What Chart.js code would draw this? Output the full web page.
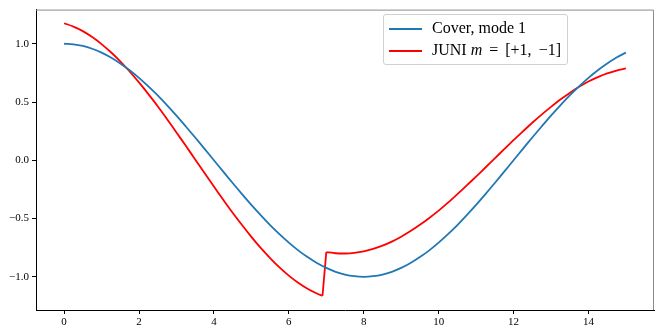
<!DOCTYPE html>
<html>
<head>
<meta charset="utf-8">
<script src="https://cdn.jsdelivr.net/npm/chart.js@4"></script>
<style>
  html, body { margin: 0; padding: 0; background: #fff; }
  #wrap { position: relative; width: 655px; height: 326px; }
  #legend {
    position: absolute; left: 383px; top: 14px; width: 183px; height: 49px;
    border: 1px solid #d0d0d0; border-radius: 3px; background: rgba(255,255,255,0.8);
    font-family: "Liberation Serif", serif; font-size: 16px; color: #000;
  }
  #legend .row { position: absolute; left: 5px; height: 20px; line-height: 20px; white-space: nowrap; }
  #legend .swatch { display: inline-block; width: 33px; height: 2px; vertical-align: middle; margin-right: 10px; }
  #legend .op { margin: 0 3px; }
</style>
</head>
<body>
<div id="wrap">
  <canvas id="chart" width="655" height="326"></canvas>
  <div id="legend">
    <div class="row" style="top:3px"><span class="swatch" style="background:#1f77b4"></span>Cover, mode 1</div>
    <div class="row" style="top:25px"><span class="swatch" style="background:#ff0000"></span>JUNI <i>m</i> <span class="op">=</span> [+1,&thinsp; −1]</div>
  </div>
</div>
<script>
// Datos (paso 0.25)
const xCover = [0, 0.25, 0.5, 0.75, 1, 1.25, 1.5, 1.75, 2, 2.25, 2.5, 2.75, 3, 3.25, 3.5, 3.75,
  4, 4.25, 4.5, 4.75, 5, 5.25, 5.5, 5.75, 6, 6.25, 6.5, 6.75, 7, 7.25, 7.5, 7.75,
  8, 8.25, 8.5, 8.75, 9, 9.25, 9.5, 9.75, 10, 10.25, 10.5, 10.75, 11, 11.25, 11.5, 11.75,
  12, 12.25, 12.5, 12.75, 13, 13.25, 13.5, 13.75, 14, 14.25, 14.5, 14.75, 15];
const yCover = [1.000, 0.995, 0.981, 0.957, 0.924, 0.882, 0.831, 0.773, 0.707, 0.634, 0.556, 0.471,
  0.383, 0.290, 0.195, 0.098, 0.000, -0.098, -0.195, -0.290, -0.383, -0.471, -0.556, -0.634,
  -0.707, -0.773, -0.831, -0.882, -0.924, -0.957, -0.981, -0.995, -1.000, -0.995, -0.981, -0.957,
  -0.924, -0.882, -0.831, -0.773, -0.707, -0.634, -0.556, -0.471, -0.383, -0.290, -0.195, -0.098,
  0.000, 0.098, 0.195, 0.290, 0.383, 0.471, 0.556, 0.634, 0.707, 0.773, 0.831, 0.882, 0.924];

// Rama izquierda (0 – 6.9) y rama derecha (7 – 15) de JUNI
const xJuniLeft = [0, 0.25, 0.5, 0.75, 1, 1.25, 1.5, 1.75, 2, 2.25, 2.5, 2.75, 3, 3.25, 3.5, 3.75,
  4, 4.25, 4.5, 4.75, 5, 5.25, 5.5, 5.75, 6, 6.25, 6.5, 6.75, 6.9];
const yJuniLeft = [1.176, 1.147, 1.108, 1.057, 0.997, 0.927, 0.849, 0.762, 0.668, 0.568, 0.464, 0.352,
  0.239, 0.124, 0.007, -0.110, -0.226, -0.339, -0.450, -0.556, -0.657, -0.752, -0.839, -0.919,
  -0.990, -1.051, -1.102, -1.143, -1.163];
const xJuniRight = [7, 7.25, 7.5, 7.75, 8, 8.25, 8.5, 8.75, 9, 9.25, 9.5, 9.75, 10, 10.25, 10.5, 10.75,
  11, 11.25, 11.5, 11.75, 12, 12.25, 12.5, 12.75, 13, 13.25, 13.5, 13.75, 14, 14.25, 14.5, 14.75, 15];
const yJuniRight = [-0.788, -0.798, -0.800, -0.794, -0.781, -0.761, -0.733, -0.698, -0.656, -0.608,
  -0.554, -0.495, -0.432, -0.364, -0.291, -0.216, -0.140, -0.062, 0.017, 0.095, 0.173, 0.248,
  0.322, 0.392, 0.458, 0.521, 0.578, 0.630, 0.676, 0.714, 0.746, 0.770, 0.788];

const xTicks = [0, 2, 4, 6, 8, 10, 12, 14];
const yTicks = [-1.0, -0.5, 0.0, 0.5, 1.0];

const colors = {
  cover: '#1f77b4',
  juni: '#ff0000',
  axis: '#000000',
  frame: '#8c8c8c'
};

const toPoints = (xs, ys) => xs.map((x, i) => ({ x: x, y: ys[i] }));
const tickFont = { family: '"Liberation Serif", serif', size: 11 };

// Salto entre las dos ramas: último punto izquierdo -> primer punto derecho
const juniJump = [
  { x: xJuniLeft[xJuniLeft.length - 1], y: yJuniLeft[yJuniLeft.length - 1] },
  { x: xJuniRight[0], y: yJuniRight[0] }
];

function lineSet(label, data, color, tension) {
  return {
    label: label,
    data: data,
    showLine: true,
    borderColor: color,
    borderWidth: 1.8,
    pointRadius: 0,
    tension: tension
  };
}

// Marco superior y derecho en gris
const framePlugin = {
  id: 'frame',
  afterDraw(chart) {
    const a = chart.chartArea;
    const ctx = chart.ctx;
    ctx.save();
    ctx.strokeStyle = colors.frame;
    ctx.lineWidth = 1;
    ctx.beginPath();
    ctx.moveTo(a.left, a.top + 0.5);
    ctx.lineTo(a.right - 0.5, a.top + 0.5);
    ctx.lineTo(a.right - 0.5, a.bottom);
    ctx.stroke();
    ctx.restore();
  }
};

new Chart(document.getElementById('chart'), {
  type: 'scatter',
  data: {
    datasets: [
      lineSet('Cover, mode 1', toPoints(xCover, yCover), colors.cover, 0.3),
      lineSet('JUNI m = [+1, −1]', toPoints(xJuniLeft, yJuniLeft), colors.juni, 0.3),
      lineSet('JUNI salto', juniJump, colors.juni, 0),
      lineSet('JUNI derecha', toPoints(xJuniRight, yJuniRight), colors.juni, 0.3)
    ]
  },
  options: {
    responsive: false,
    animation: false,
    layout: { padding: { top: 7, right: 1, left: 0, bottom: 0 } },
    plugins: {
      legend: { display: false },
      tooltip: { enabled: false }
    },
    scales: {
      x: {
        type: 'linear',
        min: -0.75,
        max: 15.75,
        afterBuildTicks: s => { s.ticks = xTicks.map(v => ({ value: v })); },
        afterFit: s => { s.height = 16; },
        grid: { drawOnChartArea: false, drawTicks: true, tickLength: 4, tickColor: colors.axis },
        border: { display: true, color: colors.axis, width: 1 },
        ticks: {
          color: '#000',
          font: tickFont,
          padding: 2,
          maxRotation: 0,
          callback: v => String(v)
        }
      },
      y: {
        type: 'linear',
        min: -1.285,
        max: 1.293,
        afterBuildTicks: s => { s.ticks = yTicks.map(v => ({ value: v })); },
        afterFit: s => { s.width = 36; },
        grid: { drawOnChartArea: false, drawTicks: true, tickLength: 4, tickColor: colors.axis },
        border: { display: true, color: colors.axis, width: 1 },
        ticks: {
          color: '#000',
          font: tickFont,
          padding: 3,
          callback: v => v.toFixed(1).replace('-', '\u2212')
        }
      }
    }
  },
  plugins: [framePlugin]
});
</script>
</body>
</html>
